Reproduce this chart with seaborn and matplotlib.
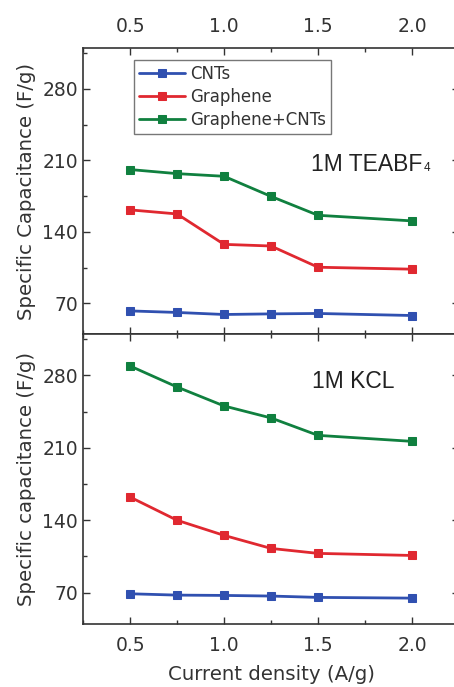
import numpy as np
import pandas as pd
import matplotlib
matplotlib.use('Agg')
import matplotlib.pyplot as plt
from matplotlib.ticker import MultipleLocator
import seaborn as sns

# current density (A/g)
current = [0.5, 0.75, 1.0, 1.25, 1.5, 2.0]

# 1M TEABF4 (organic electrolyte)
teabf4_cnt = [62.5, 61, 59, 59.6, 60, 58]
teabf4_graphene = [161.5, 157.5, 127.7, 126.1, 105.3, 103.4]
teabf4_hybrid = [201, 197, 194.4, 174.7, 156.2, 150.7]

# 1M KCL (aqueous electrolyte)
kcl_cnt = [69, 67.7, 67.4, 66.8, 65.5, 64.8]
kcl_graphene = [162.4, 140, 125.4, 112.8, 108, 106]
kcl_hybrid = [289, 268.7, 250.4, 238.8, 222, 216.2]

series_names = ['CNTs', 'Graphene', 'Graphene+CNTs']
colors = ['#3050b0', '#e02830', '#10803f']

sns.set_style('ticks')
plt.rcParams['font.family'] = ['DejaVu Sans']

fig = plt.figure(figsize=(4.54, 6.87), dpi=100)
ax1 = fig.add_axes([0.183, 0.514, 0.828, 0.416])
ax2 = fig.add_axes([0.183, 0.092, 0.828, 0.422], sharex=ax1)


def draw_panel(ax, vals, show_legend):
    for name, y, c in zip(series_names, vals, colors):
        sns.lineplot(x=current, y=y, ax=ax, color=c, marker='s', markersize=5.5,
                     markeredgecolor=c, linewidth=2, label=name if show_legend else None)
    ax.set_ylim(40, 320)
    ax.yaxis.set_major_locator(MultipleLocator(70))
    ax.yaxis.set_minor_locator(MultipleLocator(35))
    ax.xaxis.set_major_locator(MultipleLocator(0.5))
    ax.xaxis.set_minor_locator(MultipleLocator(0.25))
    ax.tick_params(which='both', direction='in', top=True, right=True,
                   labelsize=13.5, colors='#333333', labelcolor='#333333')
    ax.tick_params(which='major', length=5, width=1)
    ax.tick_params(which='minor', length=3, width=1)
    ax.tick_params(axis='x', which='major', pad=9)
    for s in ax.spines.values():
        s.set_color('#333333')
        s.set_linewidth(1.2)


draw_panel(ax1, [teabf4_cnt, teabf4_graphene, teabf4_hybrid], True)
draw_panel(ax2, [kcl_cnt, kcl_graphene, kcl_hybrid], False)

ax1.set_xlim(0.25, 2.25)
ax1.tick_params(axis='x', labelbottom=False, labeltop=True, pad=9)
ax1.set_ylabel('Specific Capacitance (F/g)', fontsize=14.2, color='#333333', labelpad=5)
ax2.set_ylabel('Specific capacitance (F/g)', fontsize=14.2, color='#333333', labelpad=5)
ax2.set_xlabel('Current density (A/g)', fontsize=14.2, color='#333333', labelpad=7)

# electrolyte labels, small "4" drawn next to the main text
t1 = ax1.text(1.46, 206, '1M TEABF', fontsize=16.5, color='#222222', va='center', ha='left',
              family='Liberation Sans')
ax1.annotate('4', xy=(1, 0), xycoords=t1, xytext=(1.5, 3.5), textcoords='offset points',
             fontsize=8.5, color='#222222', va='baseline', ha='left', family='Liberation Sans')
ax2.text(1.47, 274, '1M KCL', fontsize=16.5, color='#222222', va='center', ha='left',
         family='Liberation Sans')

leg = ax1.legend(loc='upper left', bbox_to_anchor=(0.135, 0.96), fontsize=12,
                 frameon=True, fancybox=False, edgecolor='#555555', borderpad=0.3,
                 handlelength=2.8, labelspacing=0.3, handletextpad=0.3, borderaxespad=0)
leg.get_frame().set_linewidth(1)
for t in leg.get_texts():
    t.set_color('#333333')

fig.savefig('out.png', dpi=100)
